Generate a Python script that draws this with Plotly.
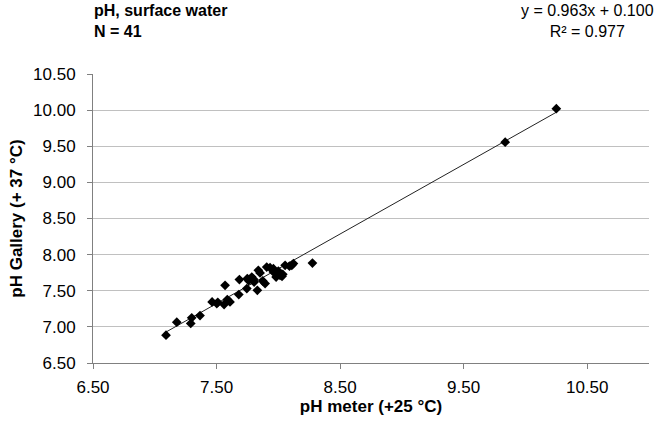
import plotly.graph_objects as go

# Data
ph_meter = [7.091, 7.178, 7.291, 7.299, 7.366, 7.464, 7.502, 7.561, 7.569, 7.587,
            7.609, 7.680, 7.685, 7.745, 7.749, 7.785, 7.804, 7.830, 7.838, 7.852,
            7.874, 7.893, 7.906, 7.933, 7.960, 7.982, 8.000, 8.014, 8.036, 8.055,
            8.109, 8.122, 8.276, 9.836, 10.25,
            7.760, 7.800, 7.960, 8.030, 8.090, 7.510]
ph_gallery = [6.885, 7.065, 7.047, 7.125, 7.157, 7.345, 7.323, 7.309, 7.575, 7.378,
              7.345, 7.447, 7.655, 7.530, 7.668, 7.690, 7.621, 7.506, 7.783, 7.746,
              7.635, 7.599, 7.828, 7.820, 7.806, 7.690, 7.773, 7.713, 7.728, 7.852,
              7.852, 7.876, 7.884, 9.557, 10.02,
              7.640, 7.660, 7.760, 7.700, 7.840, 7.340]
slope = 0.963
intercept = 0.100
r_squared = 0.977
n_points = 41
tick_vals_x = [6.5, 7.5, 8.5, 9.5, 10.5]
tick_vals_y = [6.5, 7.0, 7.5, 8.0, 8.5, 9.0, 9.5, 10.0, 10.5]

FONT = "Liberation Sans, Arial, sans-serif"

xmin, xmax = min(ph_meter), max(ph_meter)
trend_x = [xmin, xmax]
trend_y = [slope * v + intercept for v in trend_x]

fig = go.Figure()
fig.add_trace(go.Scatter(x=trend_x, y=trend_y, mode="lines",
                         line=dict(color="#222222", width=1), hoverinfo="skip"))
fig.add_trace(go.Scatter(x=ph_meter, y=ph_gallery, mode="markers",
                         marker=dict(symbol="diamond", size=7.5, color="black",
                                     line=dict(width=0))))

fig.update_layout(
    width=668, height=424,
    margin=dict(l=93, r=19, t=74, b=61),
    paper_bgcolor="white", plot_bgcolor="white",
    showlegend=False,
    font=dict(family=FONT, size=17, color="black"),
    xaxis=dict(range=[6.5, 11.0], tickvals=tick_vals_x,
               ticktext=[f"{v:.2f}" for v in tick_vals_x],
               showgrid=False, zeroline=False,
               showline=True, linecolor="#808080", linewidth=1,
               ticks="outside", ticklen=5, tickcolor="#808080",
               ticklabelstandoff=4,
               title=dict(text="<b>pH meter (+25 °C)</b>", standoff=2,
                          font=dict(size=17))),
    yaxis=dict(range=[6.5, 10.5], tickvals=tick_vals_y,
               ticktext=[f"{v:.2f}" for v in tick_vals_y],
               showgrid=True, gridcolor="#c0c0c0", gridwidth=1, zeroline=False,
               showline=True, linecolor="#808080", linewidth=1,
               ticks="outside", ticklen=5, tickcolor="#808080",
               ticklabelstandoff=8,
               title=dict(text="<b>pH Gallery (+ 37 °C)</b>", standoff=6,
                          font=dict(size=17))),
    annotations=[
        dict(xref="paper", yref="paper", x=0, y=1, yshift=73, xanchor="left",
             yanchor="top", align="left", showarrow=False, borderpad=0,
             text=f"<b>pH, surface water<br>N = {n_points}</b>",
             font=dict(size=16)),
        dict(xref="paper", yref="paper", x=1, y=1, yshift=73, xshift=6,
             xanchor="right", yanchor="top", align="center", showarrow=False,
             borderpad=0,
             text=f"y = {slope:.3f}x + {intercept:.3f}<br>R² = {r_squared:.3f}",
             font=dict(size=16)),
    ],
)

fig.write_html("out.html")
